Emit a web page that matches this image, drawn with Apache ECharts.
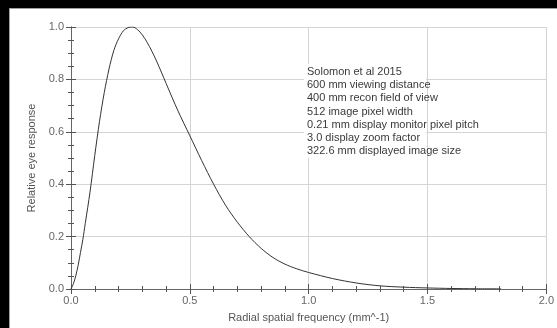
<!DOCTYPE html>
<html>
<head>
<meta charset="utf-8">
<script src="https://cdn.jsdelivr.net/npm/echarts@6/dist/echarts.min.js"></script>
<style>
  html, body { margin: 0; padding: 0; background: #000; }
  #panel { position: absolute; left: 9px; top: 8px; width: 548px; height: 330px;
           background: #fff; border-left: 1px solid #a0a0a0; border-top: 1px solid #a0a0a0; }
  #chart { position: absolute; left: 0; top: 0; width: 557px; height: 328px; }
</style>
</head>
<body>
<div id="panel"></div>
<div id="chart"></div>
<script>
// values
const freq = [0, 0.01, 0.02, 0.03, 0.04, 0.05, 0.06, 0.08, 0.10, 0.12, 0.14, 0.16, 0.18, 0.20, 0.22, 0.24,
  0.26, 0.28, 0.30, 0.32, 0.34, 0.36, 0.38, 0.40, 0.45, 0.50, 0.55, 0.60, 0.65, 0.70, 0.75, 0.80, 0.85, 0.90,
  0.95, 1.00, 1.10, 1.20, 1.30, 1.40, 1.50, 1.60, 1.70, 1.81]
const response = [0, 0.02, 0.05, 0.09, 0.14, 0.19, 0.25, 0.37, 0.51, 0.64, 0.75, 0.84, 0.91, 0.955, 0.985, 0.998,
  1.0, 0.99, 0.97, 0.942, 0.908, 0.87, 0.828, 0.785, 0.68, 0.585, 0.49, 0.40, 0.32, 0.255, 0.20, 0.155, 0.12, 0.095,
  0.077, 0.063, 0.04, 0.023, 0.012, 0.007, 0.004, 0.002, 0.001, 0.0005]
const noteLines = [
  'Solomon et al 2015',
  '600 mm viewing distance',
  '400 mm recon field of view',
  '512 image pixel width',
  '0.21 mm display monitor pixel pitch',
  '3.0 display zoom factor',
  '322.6 mm displayed image size',
]

const font = 'Liberation Sans, Arial, sans-serif'
const points = freq.map((f, i) => [f, response[i]])
const fmt = v => v.toFixed(1)

const axisCommon = {
  axisLine: { show: true, lineStyle: { color: '#666', width: 1 } },
  axisTick: { show: true, inside: true, length: 5, lineStyle: { color: '#555' } },
  minorTick: { show: true, length: 3, lineStyle: { color: '#555' } },
}

const chart = echarts.init(document.getElementById('chart'), null, { renderer: 'canvas' })
chart.setOption({
  animation: false,
  backgroundColor: 'transparent',
  grid: { left: 71, right: 10, top: 27, bottom: 36 },
  xAxis: [
    {
      ...axisCommon,
      type: 'value', min: 0, max: 2, interval: 0.5,
      minorTick: { ...axisCommon.minorTick, splitNumber: 5 },
      splitLine: { show: true, lineStyle: { color: '#d4d4d4', width: 1 } },
      axisLabel: { formatter: fmt, color: '#666', fontFamily: font, fontSize: 11, margin: 6 },
      name: 'Radial spatial frequency (mm^-1)', nameLocation: 'middle', nameGap: 23,
      nameTextStyle: { color: '#555', fontFamily: font, fontSize: 11 },
    },
    {
      ...axisCommon,
      type: 'value', position: 'top', min: 0, max: 2, interval: 0.5,
      minorTick: { ...axisCommon.minorTick, splitNumber: 5 },
      splitLine: { show: false }, axisLabel: { show: false },
    },
  ],
  yAxis: [
    {
      ...axisCommon,
      type: 'value', min: 0, max: 1, interval: 0.2,
      minorTick: { ...axisCommon.minorTick, splitNumber: 4 },
      splitLine: { show: true, lineStyle: { color: '#d4d4d4', width: 1 } },
      axisLabel: { formatter: fmt, color: '#666', fontFamily: font, fontSize: 11, margin: 7 },
      name: 'Relative eye response', nameLocation: 'middle', nameGap: 27, nameRotate: 90,
      nameTextStyle: { color: '#555', fontFamily: font, fontSize: 11 },
    },
    {
      ...axisCommon,
      type: 'value', position: 'right', min: 0, max: 1, interval: 0.2,
      minorTick: { ...axisCommon.minorTick, splitNumber: 4 },
      splitLine: { show: false }, axisLabel: { show: false },
    },
  ],
  graphic: [
    // white box behind the note hides the 1.0 grid line and the row lines
    { type: 'rect', left: 304, top: 64, z: 1, shape: { width: 122, height: 94 }, style: { fill: '#fff' } },
    {
      type: 'text', left: 307, top: 65, z: 3,
      style: {
        text: noteLines.join('\n'), fill: '#3a3a3a', font: '11px ' + font, lineHeight: 13.3,
      },
    },
  ],
  series: [
    {
      type: 'line', data: points, smooth: 0.3, showSymbol: false, z: 4,
      lineStyle: { color: '#333', width: 1 },
    },
  ],
})
</script>
</body>
</html>
